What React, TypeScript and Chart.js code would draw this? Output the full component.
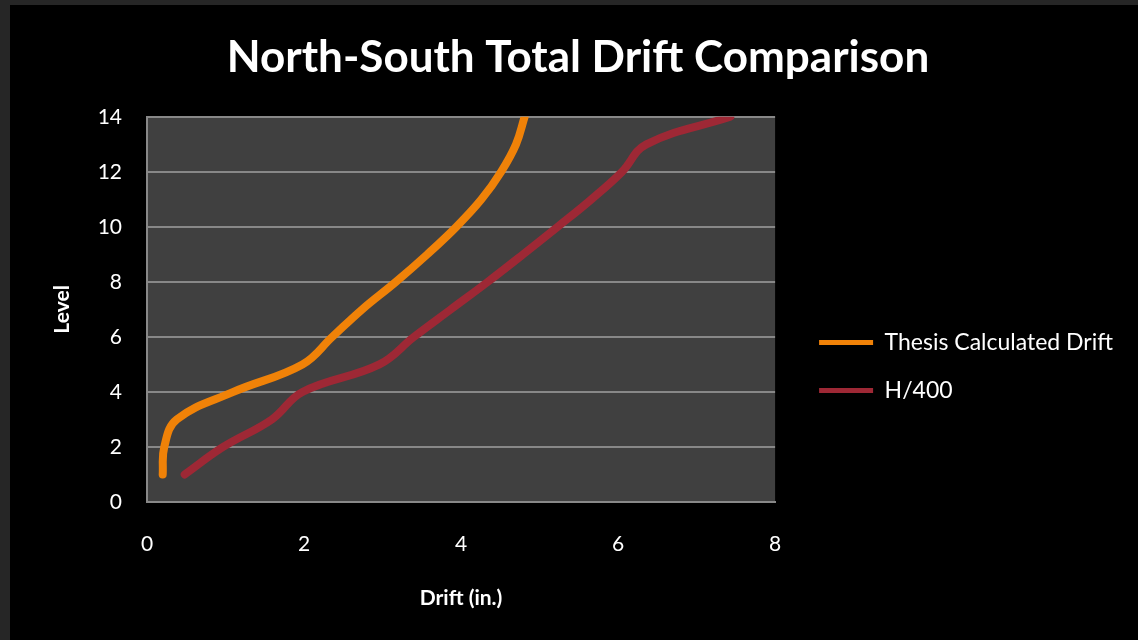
import { useEffect, useRef } from 'react';
import { Chart, registerables } from 'chart.js';

Chart.register(...registerables);

const levels = [1, 2, 3, 4, 5, 6, 7, 8, 9, 10, 11, 12, 13, 14];
const thesisDrift = [0.2, 0.22, 0.38, 1.1, 1.98, 2.36, 2.74, 3.17, 3.57, 3.94, 4.26, 4.51, 4.7, 4.81];
const h400Drift = [0.48, 0.97, 1.59, 1.98, 2.96, 3.4, 3.87, 4.34, 4.79, 5.23, 5.66, 6.05, 6.36, 7.43];
const seriesNames = ['Thesis Calculated Drift', 'H/400'];
const seriesColors = ['#F08208', '#9E2835'];
const chartTitle = 'North-South Total Drift Comparison';
const xAxisTitle = 'Drift (in.)';
const yAxisTitle = 'Level';
const xRange = [0, 8];
const yRange = [0, 14];
const tickStep = 2;

const FONT = 'Lato, "Open Sans", sans-serif';
const LEGEND_PAD = 25;

export default function App() {
  const ref = useRef<HTMLCanvasElement>(null);

  useEffect(() => {
    if (!ref.current) return;
    const plotBg = {
      id: 'plotBg',
      beforeDraw(chart: any) {
        const { ctx, chartArea: a } = chart;
        ctx.save();
        ctx.fillStyle = '#404040';
        ctx.fillRect(a.left, a.top, a.right - a.left, a.bottom - a.top);
        ctx.restore();
      },
    };
    const boxShift = {
      id: 'boxShift',
      afterLayout(chart: any) {
        const lg = chart.legend;
        if (lg) {
          const dx = chart.chartArea.right + 44 - (lg.left + LEGEND_PAD);
          const dy = 44;
          lg.left += dx;
          lg.right += dx;
          lg.top += dy;
          lg.bottom += dy;
        }
        const tb = chart.titleBlock;
        if (tb) {
          const tdx = chart.width / 2 + 4 - (tb.left + tb.right) / 2;
          tb.left += tdx;
          tb.right += tdx;
        }
      },
    };
    const mk = (i: number, xs: number[]) => ({
      label: seriesNames[i],
      data: levels.map((l, k) => ({ x: xs[k], y: l })),
      borderColor: seriesColors[i],
      backgroundColor: seriesColors[i],
      showLine: true,
      borderWidth: 8,
      tension: 0.4,
      pointRadius: 0,
      pointHoverRadius: 0,
      borderCapStyle: 'round',
      borderJoinStyle: 'round',
    });
    const chart = new Chart(ref.current, {
      type: 'scatter',
      data: { datasets: [mk(0, thesisDrift), mk(1, h400Drift)] as any },
      options: {
        responsive: false,
        animation: false,
        layout: { padding: { left: 0, right: 34, top: 0, bottom: 0 } },
        plugins: {
          title: {
            display: true,
            text: chartTitle,
            color: '#ffffff',
            font: { family: FONT, size: 44, weight: 'bold' },
            padding: { top: 26, bottom: 33 },
          },
          legend: {
            position: 'right',
            maxWidth: 420,
            labels: {
              color: '#ffffff',
              font: { family: FONT, size: 23 },
              boxWidth: 54,
              boxHeight: 5,
              padding: LEGEND_PAD,
              generateLabels: (c: any) =>
                Chart.defaults.plugins.legend.labels
                  .generateLabels(c)
                  .map((l: any) => ({ ...l, lineWidth: 0, fillStyle: l.strokeStyle })),
            },
          },
          tooltip: { enabled: false },
        },
        scales: {
          x: {
            type: 'linear',
            min: xRange[0],
            max: xRange[1],
            ticks: { stepSize: tickStep, color: '#ffffff', font: { family: FONT, size: 21 }, padding: 30 },
            grid: { display: false, drawTicks: false },
            border: { display: true, color: '#888888', width: 2 },
            title: {
              display: true,
              text: xAxisTitle,
              color: '#ffffff',
              font: { family: FONT, size: 21, weight: 'bold' },
              padding: { top: 0, bottom: 29 },
            },
            afterFit: (s: any) => {
              s.height = 138;
            },
          },
          y: {
            type: 'linear',
            min: yRange[0],
            max: yRange[1],
            ticks: { stepSize: tickStep, color: '#ffffff', font: { family: FONT, size: 21 }, padding: 25 },
            grid: { color: '#888888', lineWidth: 2, drawTicks: false },
            border: { display: true, color: '#888888', width: 2 },
            title: {
              display: true,
              text: yAxisTitle,
              color: '#ffffff',
              font: { family: FONT, size: 21, weight: 'bold' },
              padding: { top: 40, bottom: 0 },
            },
            afterFit: (s: any) => {
              s.width = 137;
            },
          },
        },
      } as any,
      plugins: [plotBg, boxShift],
    });
    return () => chart.destroy();
  }, []);

  return (
    <div
      style={{
        position: 'fixed',
        left: 0,
        top: 0,
        width: 1138,
        height: 640,
        background: '#262626',
        overflow: 'hidden',
      }}
    >
      <canvas
        ref={ref}
        width={1128}
        height={635}
        style={{ position: 'absolute', left: 10, top: 5, width: 1128, height: 635, background: '#000000' }}
      />
    </div>
  );
}
